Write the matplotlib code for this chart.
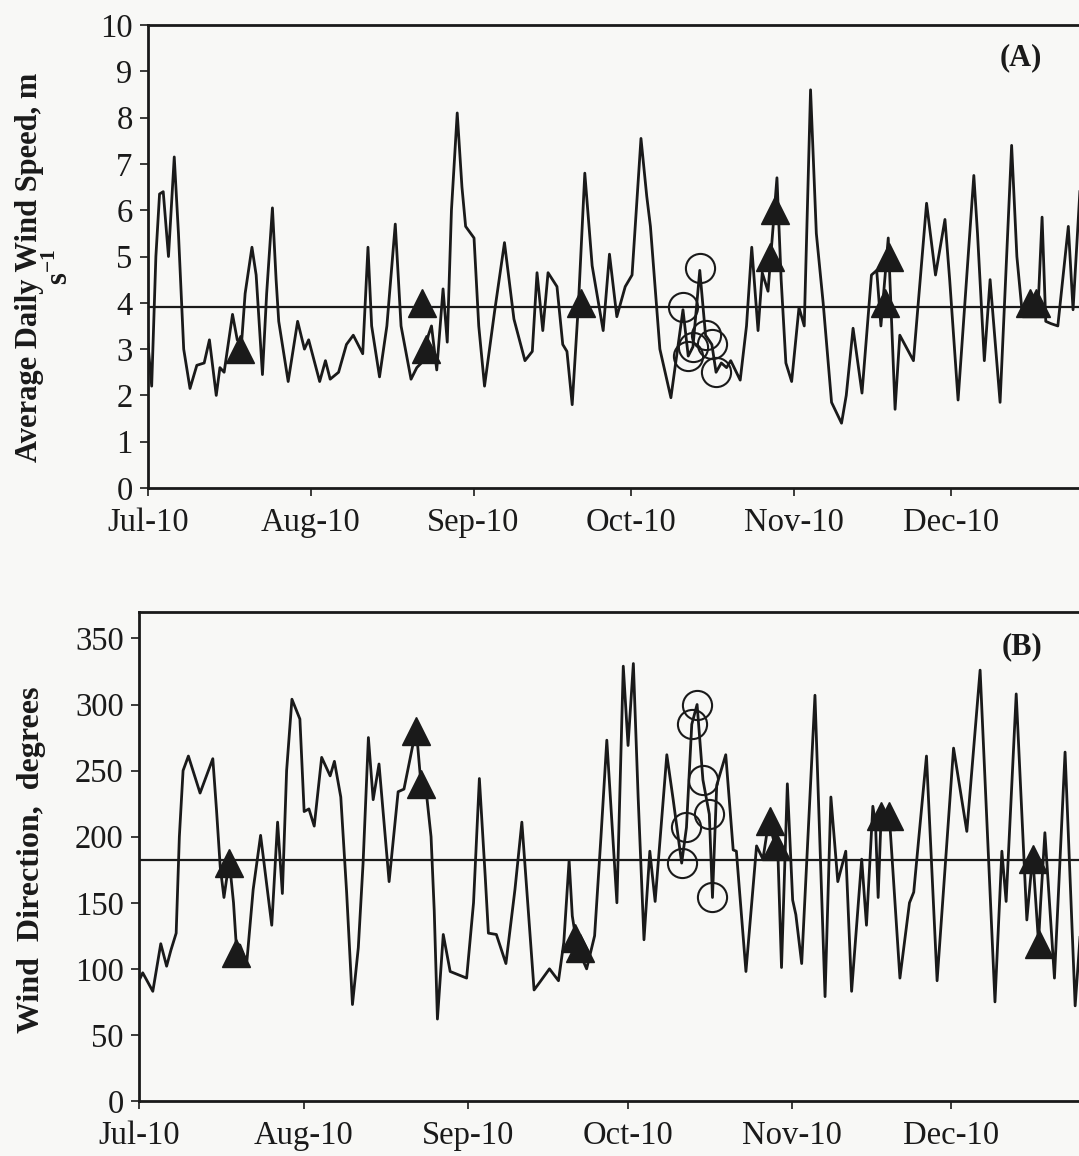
import matplotlib
matplotlib.use("Agg")
import matplotlib.pyplot as plt
import numpy as np

plt.rcParams['font.family'] = ['Liberation Serif', 'DejaVu Serif']
plt.rcParams['mathtext.fontset'] = 'custom'
plt.rcParams['mathtext.rm'] = 'Liberation Serif:bold'
plt.rcParams['mathtext.bf'] = 'Liberation Serif:bold'

### Data, x = days since 1 Jul 2010

# (A) average daily wind speed, m/s
speed_day = [0, 0.7, 1.5, 2.2, 2.9, 3.9, 5.0, 5.8, 6.8, 8.0, 9.3, 10.7, 11.7, 13.0, 13.7, 14.5,
             16.1, 17.0, 17.8, 18.5, 19.8, 20.6, 21.8, 22.6, 23.7, 24.4, 24.9, 26.7, 28.5, 29.8,
             30.6, 32.7, 33.8, 34.7, 36.3, 37.8, 39.1, 40.9, 41.9, 42.6, 44.1, 45.5, 47.1, 48.2,
             50.1, 51.2, 52.5, 53.4, 54.0, 55.0, 56.2, 57.0, 57.8, 58.9, 59.8, 60.5, 62.1, 63.0,
             64.1, 66.0, 67.9, 69.7, 71.8, 73.2, 74.1, 75.2, 76.2, 77.9, 79.0, 79.8, 80.8, 82.0,
             83.2, 84.6, 86.7, 87.9, 89.3, 90.9, 92.2, 93.9, 95.0, 95.7, 97.5, 99.6, 101.9, 102.9,
             103.8, 105.1, 106.2, 107.4, 108.2, 109.2, 110.2, 111.0, 112.8, 114.0, 115.0, 116.2,
             117.0, 118.1, 119.8, 120.6, 121.5, 122.6, 124.0, 125.0, 126.2, 127.3, 128.6, 130.2,
             132.1, 133.0, 134.3, 136.0, 137.8, 138.8, 139.6, 141.0, 142.3, 143.2, 145.8, 148.3,
             150.0, 151.8, 152.7, 154.3, 157.3, 158.0, 159.3, 160.4, 162.3, 164.5, 165.5, 166.5,
             168.5, 169.5, 170.3, 171.0, 172.0, 173.3, 175.3, 176.2, 177.5]
speed_val = [3.1, 2.2, 5.0, 6.35, 6.4, 5.0, 7.15, 5.5, 3.0, 2.15, 2.65, 2.7, 3.2, 2.0, 2.6, 2.5,
             3.75, 3.2, 3.1, 4.2, 5.2, 4.6, 2.45, 4.2, 6.05, 4.5, 3.6, 2.3, 3.6, 3.0,
             3.2, 2.3, 2.75, 2.35, 2.5, 3.1, 3.3, 2.9, 5.2, 3.5, 2.4, 3.5, 5.7, 3.5,
             2.35, 2.6, 2.75, 3.3, 3.5, 2.55, 4.3, 3.15, 6.0, 8.1, 6.5, 5.65, 5.4, 3.5,
             2.2, 3.8, 5.3, 3.65, 2.75, 2.95, 4.65, 3.4, 4.65, 4.35, 3.1, 2.95, 1.8, 4.0,
             6.8, 4.8, 3.4, 5.05, 3.7, 4.35, 4.6, 7.55, 6.3, 5.65, 3.0, 1.95, 3.85, 2.85,
             3.05, 4.7, 3.3, 3.1, 2.5, 2.7, 2.6, 2.75, 2.33, 3.5, 5.2, 3.4,
             4.65, 4.25, 6.7, 4.5, 2.7, 2.3, 3.9, 3.5, 8.6, 5.5, 4.0, 1.85,
             1.4, 2.0, 3.45, 2.05, 4.6, 4.7, 3.5, 5.4, 1.7, 3.3, 2.75, 6.15,
             4.6, 5.8, 4.5, 1.9, 6.75, 5.5, 2.75, 4.5, 1.85, 7.4, 5.0, 3.8,
             4.0, 3.8, 5.85, 3.6, 3.55, 3.5, 5.65, 3.85, 6.4]
speed_mean = 3.9

speed_tri_day = [17.5, 52.2, 53.0, 82.5, 118.5, 119.5, 140.3, 141.2, 168.0, 169.2]
speed_tri_val = [3.0, 4.0, 3.0, 4.0, 5.0, 6.0, 4.0, 5.0, 4.0, 4.0]
speed_circ_day = [101.9, 102.9, 103.8, 105.1, 106.2, 107.4, 108.2]
speed_circ_val = [3.9, 2.85, 3.05, 4.75, 3.3, 3.1, 2.5]

# (B) wind direction, degrees
dir_day = [0, 0.7, 2.6, 4.1, 5.2, 6.0, 7.0, 7.6, 8.3, 9.3, 11.5, 13.9, 14.6, 15.3, 16.0, 17.0,
           17.8, 18.3, 19.0, 20.3, 21.5, 22.9, 25.0, 26.1, 27.0, 27.8, 28.8, 30.3, 31.1, 32.0,
           33.0, 34.4, 36.0, 36.8, 38.0, 39.1, 40.2, 41.3, 42.2, 43.2, 44.1, 45.2, 47.1, 48.8,
           49.9, 52.2, 53.1, 54.2, 55.0, 55.6, 56.2, 57.3, 58.6, 61.7, 63.0, 64.1, 65.2, 65.8,
           67.3, 69.1, 70.8, 72.1, 73.2, 74.4, 75.5, 77.3, 79.0, 80.0, 81.0, 81.6, 82.3, 83.0,
           84.3, 85.8, 87.0, 88.1, 90.0, 91.2, 92.1, 93.1, 94.0, 95.1, 96.2, 97.2, 99.4, 100.6,
           102.2, 103.1, 104.1, 105.1, 106.2, 107.4, 108.0, 108.8, 110.5, 111.9, 112.5, 114.3,
           116.3, 117.5, 118.6, 119.6, 120.3, 121.0, 122.1, 123.1, 123.7, 124.8, 127.3, 129.2,
           130.3, 131.6, 133.1, 134.2, 136.1, 137.0, 138.2, 138.7, 139.2, 139.8, 141.3, 143.3,
           145.1, 145.9, 148.3, 150.3, 153.4, 155.9, 158.4, 161.2, 162.5, 163.3, 165.2, 167.2,
           168.3, 169.4, 169.8, 170.6, 172.4, 174.4, 176.3, 177.5]
dir_val = [91, 97, 83, 119, 102, 114, 127, 200, 250, 261, 233, 259, 220, 177, 154, 182,
           150, 119, 118, 105, 160, 201, 133, 211, 157, 250, 304, 289, 219, 221,
           208, 260, 246, 257, 230, 158, 73, 116, 180, 275, 228, 255, 166, 234,
           236, 282, 240, 230, 200, 144, 62, 126, 98, 93, 150, 244, 170, 127,
           126, 104, 160, 211, 150, 84, 90, 100, 91, 120, 182, 140, 122, 112,
           100, 125, 200, 273, 150, 329, 269, 331, 230, 122, 189, 151, 262, 228,
           180, 207, 285, 300, 243, 217, 154, 239, 262, 190, 189, 98,
           193, 183, 212, 196, 190, 101, 240, 152, 141, 104, 307, 79,
           230, 166, 189, 83, 183, 133, 223, 210, 154, 220, 216, 93,
           150, 158, 261, 91, 267, 204, 326, 75, 189, 151, 308, 137,
           186, 120, 150, 203, 93, 264, 72, 140]
dir_mean = 182

dir_tri_day = [17.0, 18.3, 52.2, 53.1, 82.1, 83.0, 118.8, 120.0, 139.8, 141.2, 168.3, 169.4]
dir_tri_val = [180, 112, 280, 240, 123, 116, 212, 193, 216, 216, 183, 119]
dir_circ_day = [102.2, 103.1, 104.1, 105.1, 106.2, 107.4, 108.0]
dir_circ_val = [180, 207, 285, 300, 243, 217, 154]

month_days = [0, 31, 62, 92, 123, 153]
month_labels = ['Jul-10', 'Aug-10', 'Sep-10', 'Oct-10', 'Nov-10', 'Dec-10']

ink = '#1a1a1a'
paper = '#f8f8f6'


def panel(ax, day, val, mean, tday, tval, cday, cval, ylim, yticks, tag):
    ax.set_facecolor(paper)
    ax.plot(day, val, color=ink, lw=2.0, solid_joinstyle='round', zorder=2)
    ax.axhline(mean, color=ink, lw=1.6, zorder=1)
    ax.plot(tday, tval, ls='none', marker='^', ms=20, color=ink, zorder=3)
    ax.plot(cday, cval, ls='none', marker='o', ms=21, mfc='none', mec=ink, mew=1.5, zorder=3)
    ax.set_xlim(0, 184)
    ax.set_ylim(*ylim)
    ax.set_yticks(yticks)
    ax.set_xticks(month_days)
    ax.set_xticklabels(month_labels)
    ax.tick_params(direction='out', length=6, width=1.2, labelsize=23.5, colors=ink, pad=5)
    ax.tick_params(axis='x', pad=8)
    for s in ax.spines.values():
        s.set_linewidth(2.0)
        s.set_color(ink)
    ax.text(0.904, 0.93, tag, transform=ax.transAxes, fontsize=22, fontweight='bold',
            ha='center', va='center', color=ink)


fig = plt.figure(figsize=(10.79, 11.56), dpi=100)
fig.patch.set_facecolor(paper)

ax1 = fig.add_axes([148 / 1079, 1 - 488 / 1156, 184 * 5.25 / 1079, 463 / 1156])
panel(ax1, speed_day, speed_val, speed_mean, speed_tri_day, speed_tri_val,
      speed_circ_day, speed_circ_val, (0, 10), range(0, 11), '(A)')

ax2 = fig.add_axes([139 / 1079, 1 - 1101 / 1156, 184 * 5.31 / 1079, 489 / 1156])
panel(ax2, dir_day, dir_val, dir_mean, dir_tri_day, dir_tri_val,
      dir_circ_day, dir_circ_val, (0, 370), range(0, 351, 50), '(B)')

fig.text(45 / 1079, 1 - 267 / 1156, 'Average Daily Wind Speed, m\ns$^{-1}$', rotation=90,
         ha='center', va='center', multialignment='center', fontsize=22,
         fontweight='bold', color=ink, linespacing=1.05)
fig.text(32 / 1079, 1 - 860 / 1156, 'Wind  Direction,  degrees', rotation=90,
         ha='center', va='center', fontsize=23, fontweight='bold', color=ink)

fig.savefig('out.png', dpi=100, facecolor=paper)
